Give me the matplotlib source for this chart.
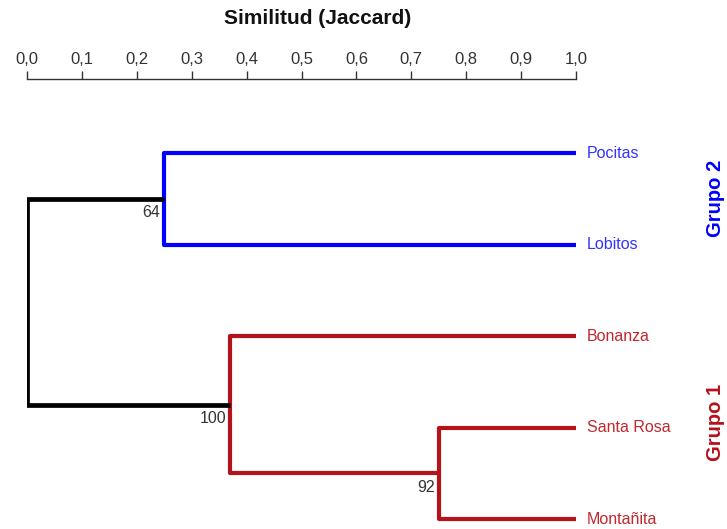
import matplotlib.pyplot as plt

plt.rcParams['font.family'] = ['Liberation Sans', 'DejaVu Sans']

# leaves, top to bottom
leaves = ['Pocitas', 'Lobitos', 'Bonanza', 'Santa Rosa', 'Montañita']
leaf_group = ['Grupo 2', 'Grupo 2', 'Grupo 1', 'Grupo 1', 'Grupo 1']

# merges: (left child, right child, similarity, bootstrap, colour key)
# children: leaf index or 'n<k>' for earlier merge
merges = [
    (0, 1, 0.25, '64', 'Grupo 2'),
    (3, 4, 0.75, '92', 'Grupo 1'),
    (2, 'n1', 0.37, '100', 'Grupo 1'),
    ('n0', 'n2', 0.0, None, 'root'),
]

line_colors = {'Grupo 2': '#0000FF', 'Grupo 1': '#B5121B', 'root': '#000000'}
text_colors = {'Grupo 2': '#3333FF', 'Grupo 1': '#C0282E'}

ticks = [0.0, 0.1, 0.2, 0.3, 0.4, 0.5, 0.6, 0.7, 0.8, 0.9, 1.0]

fig = plt.figure(figsize=(7.27, 5.29), dpi=100)
ax = fig.add_axes([27 / 727, 0.0, 549 / 727, 450 / 529])
ax.set_xlim(0, 1)
ax.set_ylim(4.109, -0.809)

# leaf positions: x = 1 (similarity), y = index
pos = {i: (1.0, float(i)) for i in range(len(leaves))}
for k, (a, b, h, boot, key) in enumerate(merges):
    xa, ya = pos[a]
    xb, yb = pos[b]
    lw = 3.4 if key == 'root' else 3.0
    ax.plot([xa, h, h, xb], [ya, ya, yb, yb], color=line_colors[key], lw=lw,
            solid_joinstyle='round', solid_capstyle='butt', zorder=2)
    ym = (ya + yb) / 2
    pos['n%d' % k] = (h, ym)
    if boot:
        ax.annotate(boot, (h, ym), xytext=(-3, -10), textcoords='offset points',
                    ha='right', va='center', fontsize=11.5, color='#333333')

for i, name in enumerate(leaves):
    ax.annotate(name, (1.0, i), xytext=(8, 0), textcoords='offset points',
                ha='left', va='center', fontsize=11.5,
                color=text_colors[leaf_group[i]], annotation_clip=False)

# group labels on the right
group_y = {'Grupo 2': 0.5, 'Grupo 1': 2.94}
for g, yc in group_y.items():
    ax.text(1.255, yc, g, rotation=90, ha='center', va='center',
            fontsize=14.5, fontweight='bold', color=line_colors[g],
            transform=ax.transData, clip_on=False)

for s in ['right', 'bottom', 'left']:
    ax.spines[s].set_visible(False)
ax.spines['top'].set_linewidth(1.0)
ax.spines['top'].set_color('#333333')
ax.xaxis.set_ticks_position('top')
ax.set_xticks(ticks)
ax.set_xticklabels([('%.1f' % t).replace('.', ',') for t in ticks])
ax.tick_params(axis='x', direction='out', length=6, width=1, color='#333333',
               labelsize=12, labelcolor='#333333', pad=3)
ax.set_yticks([])

fig.text(318 / 727, 1 - 18 / 529, 'Similitud (Jaccard)', ha='center', va='center',
         fontsize=15, fontweight='bold', color='#111111')

fig.savefig('out.png', dpi=100)
